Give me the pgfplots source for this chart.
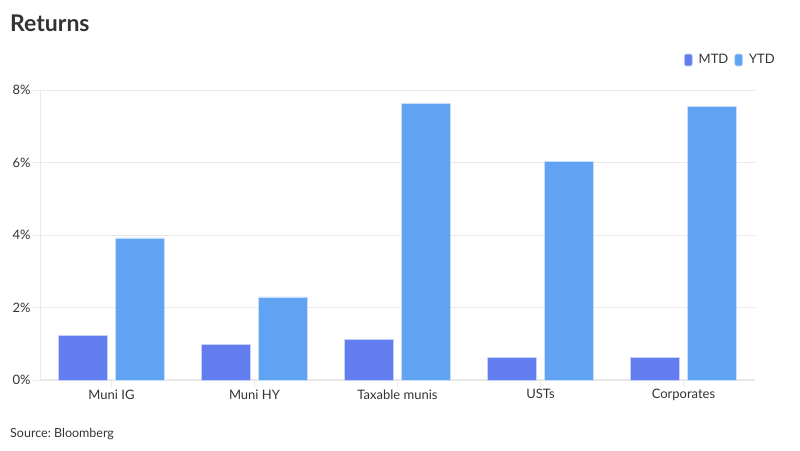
\documentclass[border=0pt]{standalone}
\usepackage{fontspec}
\setmainfont{Lato}
\usepackage{pgfplots}
\pgfplotsset{compat=1.18}
\frenchspacing
\definecolor{mtd}{HTML}{627DEF}
\definecolor{ytd}{HTML}{60A3F2}
\definecolor{gridc}{HTML}{E9E9E9}
\definecolor{txt}{HTML}{333333}
\begin{document}
\begin{tikzpicture}[x=1pt,y=1pt]
\begin{axis}[
  at={(40pt,70pt)}, anchor=south west,
  scale only axis, width=715pt, height=290pt,
  ybar=8pt, bar width=49pt,
  xmin=-0.5, xmax=4.5, ymin=0, ymax=8,
  xtick={0,1,2,3,4},
  xticklabels={Muni IG, Muni HY, Taxable munis, USTs, Corporates},
  ytick={0,2,4,6,8},
  yticklabel={\pgfmathprintnumber{\tick}\%},
  /pgf/number format/assume math mode=true,
  ymajorgrids, grid style={gridc, line width=1pt},
  axis x line*=bottom, axis y line*=left,
  x axis line style={draw=gridc, line width=1.5pt, -},
  y axis line style={draw=gridc, line width=1pt, -},
  tick style={draw=gridc, line width=1pt},
  major tick length=7pt,
  xtick align=outside, ytick align=outside,
  tick label style={font=\fontsize{13}{15}\selectfont, text=txt},
  xticklabel style={yshift=1pt},
  yticklabel style={xshift=1pt},
  legend style={at={(axis description cs:1,1)}, anchor=east, xshift=22pt, yshift=30pt, draw=none, fill=none, inner sep=0pt, font=\fontsize{13}{15}\selectfont, text=txt, column sep=4pt},
  legend columns=2,
  legend image code/.code={\fill[#1, rounded corners=2pt] (0pt,-6pt) rectangle (8pt,6pt);},
]
\addplot[fill=mtd, draw=mtd!35!white, line width=0.8pt] coordinates {(0,1.24) (1,0.97) (2,1.13) (3,0.63) (4,0.61)};
\addplot[fill=ytd, draw=ytd!35!white, line width=0.8pt] coordinates {(0,3.92) (1,2.29) (2,7.64) (3,6.04) (4,7.54)};
\legend{MTD, YTD}
\end{axis}
\node[anchor=base west, font=\fontsize{23}{26}\selectfont\bfseries, text=txt, inner sep=0] at (10,418) {Returns};
\node[anchor=base west, font=\fontsize{12.5}{14}\selectfont, text=txt, inner sep=0] at (10,13) {Source: Bloomberg};
\pgfresetboundingbox
\path[use as bounding box] (0,0) rectangle (800,450);
\end{tikzpicture}
\end{document}
